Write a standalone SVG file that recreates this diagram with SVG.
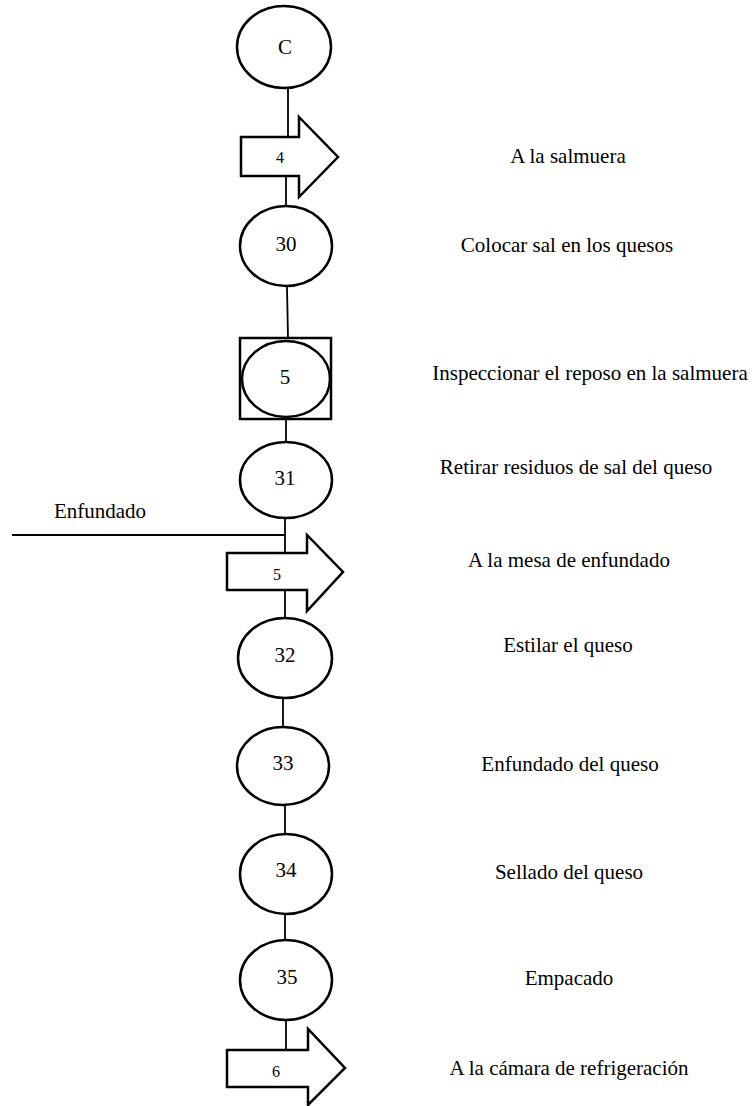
<svg xmlns="http://www.w3.org/2000/svg" width="755" height="1106" viewBox="0 0 755 1106">
<style>
.sh{fill:#fff;stroke:#000;stroke-width:2.5}
.ln{stroke:#000;stroke-width:1.8;fill:none}
.t{font-size:21px;fill:#000}
.c{text-anchor:middle}
.a{font-size:16px;fill:#000;text-anchor:middle}
</style>
<rect width="755" height="1106" fill="#fff"/>
<g id="connectors">
<line class="ln" x1="288" y1="88" x2="288" y2="138"/>
<line class="ln" x1="286" y1="176" x2="286" y2="206"/>
<line class="ln" x1="287" y1="287" x2="288" y2="338"/>
<line class="ln" x1="286" y1="419" x2="286" y2="442"/>
<line class="ln" x1="285" y1="518" x2="285" y2="553"/>
<line class="ln" x1="12" y1="535" x2="285" y2="535"/>
<line class="ln" x1="285" y1="590" x2="285" y2="618"/>
<line class="ln" x1="283" y1="698" x2="283" y2="727"/>
<line class="ln" x1="285" y1="805" x2="285" y2="834"/>
<line class="ln" x1="285" y1="914" x2="285" y2="940"/>
<line class="ln" x1="286" y1="1021" x2="286" y2="1050"/>
</g>
<g id="nodes" font-family="'Liberation Serif', 'Times New Roman', serif">
<g id="nodeC"><ellipse class="sh" cx="284" cy="47" rx="47" ry="41"/><text class="t c" x="285" y="54">C</text></g>
<g id="arrow4"><path class="sh" d="M241,137 H299 V117 L338,157 L299,197 V176 H241 Z"/><text class="a" x="280" y="163">4</text></g>
<g id="label-arrow4"><text class="t c" x="568" y="163">A la salmuera</text></g>
<g id="node30"><ellipse class="sh" cx="286" cy="246" rx="46" ry="40"/><text class="t c" x="286" y="251">30</text><text class="t c" x="567" y="252">Colocar sal en los quesos</text></g>
<g id="node5"><rect class="sh" x="240" y="338" width="91" height="81"/><ellipse class="sh" cx="286" cy="379" rx="44" ry="38"/><text class="t c" x="285" y="384">5</text><text class="t c" x="590" y="380">Inspeccionar el reposo en la salmuera</text></g>
<g id="node31"><ellipse class="sh" cx="286" cy="480" rx="46" ry="38"/><text class="t c" x="285" y="485">31</text><text class="t c" x="576" y="474">Retirar residuos de sal del queso</text></g>
<g id="enfundado"><text class="t c" x="100" y="518">Enfundado</text></g>
<g id="arrow5"><path class="sh" d="M227,553 H307 V535 L343,572 L307,611 V590 H227 Z"/><text class="a" x="277" y="580">5</text><text class="t c" x="569" y="567">A la mesa de enfundado</text></g>
<g id="node32"><ellipse class="sh" cx="285" cy="658" rx="47" ry="40"/><text class="t c" x="285" y="662">32</text><text class="t c" x="568" y="652">Estilar el queso</text></g>
<g id="node33"><ellipse class="sh" cx="283" cy="766" rx="46" ry="39"/><text class="t c" x="283" y="770">33</text><text class="t c" x="570" y="771">Enfundado del queso</text></g>
<g id="node34"><ellipse class="sh" cx="286" cy="874" rx="46" ry="40"/><text class="t c" x="286" y="877">34</text><text class="t c" x="569" y="879">Sellado del queso</text></g>
<g id="node35"><ellipse class="sh" cx="286" cy="980" rx="46" ry="40"/><text class="t c" x="287" y="984">35</text><text class="t c" x="569" y="985">Empacado</text></g>
<g id="arrow6"><path class="sh" d="M227,1050 H308 V1029 L345,1068 L308,1105 V1087 H227 Z"/><text class="a" x="276" y="1077">6</text><text class="t c" x="569" y="1075">A la cámara de refrigeración</text></g>
</g>
</svg>
